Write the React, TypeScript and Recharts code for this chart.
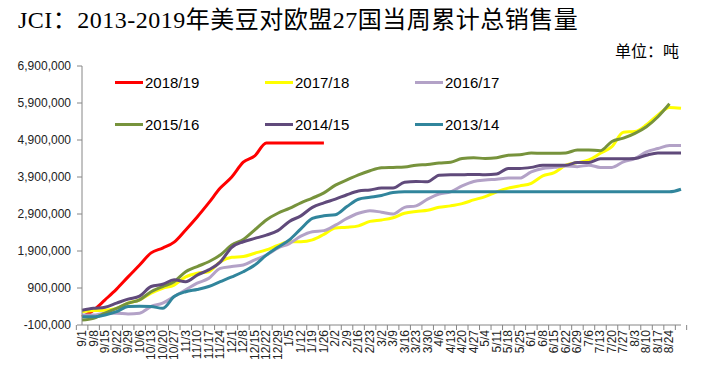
import { LineChart, Line, XAxis, YAxis } from "recharts";

// weekly categories (marketing year Sep -> Aug), last slot has no label
const weeks = [
  "9/1", "9/8", "9/15", "9/22", "9/29", "10/6", "10/13", "10/20", "10/27", "11/3", "11/10", "11/17", "11/24",
  "12/1", "12/8", "12/15", "12/22", "12/29", "1/5", "1/12", "1/19", "1/26", "2/2", "2/9", "2/16", "2/23",
  "3/2", "3/9", "3/16", "3/23", "3/30", "4/6", "4/13", "4/20", "4/27", "5/4", "5/11", "5/18", "5/25",
  "6/1", "6/8", "6/15", "6/22", "6/29", "7/6", "7/13", "7/20", "7/27", "8/3", "8/10", "8/17", "8/24", "",
];

const yTicks = [-100000, 900000, 1900000, 2900000, 3900000, 4900000, 5900000, 6900000];

const s1819 = [
  120000, 300000, 580000, 870000, 1200000, 1520000, 1850000, 1980000, 2140000, 2470000, 2820000,
  3200000, 3600000, 3900000, 4300000, 4470000, 4820000, 4820000, 4820000, 4820000, 4820000, 4820000,
];
const s1718 = [
  260000, 290000, 300000, 350000, 490000, 580000, 760000, 890000, 980000, 1200000, 1300000, 1340000,
  1610000, 1730000, 1750000, 1840000, 1930000, 2050000, 2150000, 2150000, 2200000, 2350000, 2520000,
  2540000, 2580000, 2700000, 2740000, 2800000, 2920000, 2970000, 3000000, 3080000, 3120000, 3180000,
  3280000, 3370000, 3500000, 3600000, 3660000, 3730000, 3930000, 4020000, 4220000, 4290000, 4360000,
  4540000, 4720000, 5110000, 5130000, 5310000, 5580000, 5780000, 5760000,
];
const s1617 = [
  170000, 170000, 220000, 220000, 200000, 220000, 400000, 490000, 670000, 850000, 1030000, 1160000,
  1430000, 1480000, 1520000, 1660000, 1790000, 1980000, 2100000, 2300000, 2420000, 2450000, 2600000,
  2780000, 2920000, 2990000, 2950000, 2900000, 3080000, 3120000, 3300000, 3440000, 3500000, 3660000,
  3780000, 3820000, 3840000, 3870000, 3870000, 4040000, 4130000, 4160000, 4200000, 4180000, 4220000,
  4160000, 4160000, 4310000, 4400000, 4580000, 4670000, 4750000, 4750000,
];
const s1516 = [
  35000, 80000, 220000, 350000, 490000, 580000, 800000, 940000, 1070000, 1340000, 1480000, 1610000,
  1790000, 2060000, 2210000, 2470000, 2740000, 2920000, 3050000, 3200000, 3330000, 3470000, 3680000,
  3820000, 3960000, 4070000, 4150000, 4160000, 4170000, 4220000, 4240000, 4280000, 4300000, 4400000,
  4420000, 4400000, 4420000, 4490000, 4500000, 4550000, 4540000, 4540000, 4550000, 4630000, 4630000,
  4610000, 4860000, 4950000, 5080000, 5260000, 5530000, 5880000,
];
const s1415 = [
  300000, 350000, 380000, 490000, 600000, 680000, 940000, 1000000, 1120000, 1070000, 1250000, 1390000,
  1600000, 2000000, 2150000, 2240000, 2330000, 2450000, 2700000, 2850000, 3080000, 3200000, 3300000,
  3420000, 3520000, 3550000, 3600000, 3600000, 3760000, 3780000, 3770000, 3950000, 3960000, 3960000,
  3970000, 3960000, 3980000, 4130000, 4130000, 4160000, 4220000, 4220000, 4220000, 4290000, 4290000,
  4390000, 4390000, 4390000, 4400000, 4490000, 4550000, 4550000, 4550000,
];
const s1314 = [
  120000, 120000, 170000, 260000, 400000, 410000, 400000, 350000, 670000, 800000, 860000, 940000,
  1070000, 1200000, 1340000, 1520000, 1790000, 2000000, 2200000, 2500000, 2780000, 2850000, 2880000,
  3100000, 3300000, 3350000, 3400000, 3480000, 3500000, 3500000, 3500000, 3500000, 3500000, 3500000,
  3500000, 3500000, 3500000, 3500000, 3500000, 3500000, 3500000, 3500000, 3500000, 3500000, 3500000,
  3500000, 3500000, 3500000, 3500000, 3500000, 3500000, 3500000, 3570000,
];

const series = [
  { key: "s1819", name: "2018/19", color: "#FF0000", values: s1819 },
  { key: "s1718", name: "2017/18", color: "#FFFF00", values: s1718 },
  { key: "s1617", name: "2016/17", color: "#B3A2C7", values: s1617 },
  { key: "s1516", name: "2015/16", color: "#77933C", values: s1516 },
  { key: "s1415", name: "2014/15", color: "#604A7B", values: s1415 },
  { key: "s1314", name: "2013/14", color: "#31859C", values: s1314 },
];

const data = weeks.map((w, i) => {
  const row: Record<string, string | number | null> = { week: w };
  series.forEach((s) => {
    row[s.key] = s.values[i] ?? null;
  });
  return row;
});

const AXIS = "#868686";
const HALF_BAND = 5.65;

// Excel-style: tick marks between categories, labels rotated vertically
const WeekTick = (props: any) => {
  const { x, y, payload, index } = props;
  return (
    <g>
      <line x1={x - HALF_BAND} y1={y} x2={x - HALF_BAND} y2={y + 5} stroke={AXIS} />
      {index === weeks.length - 1 && <line x1={x + HALF_BAND} y1={y} x2={x + HALF_BAND} y2={y + 5} stroke={AXIS} />}
      <text
        x={0}
        y={0}
        transform={`translate(${x + 4},${y + 5}) rotate(-90)`}
        textAnchor="end"
        fontSize={12}
        fill="#222"
        fontFamily="'Liberation Sans', Arial, sans-serif"
      >
        {payload.value}
      </text>
    </g>
  );
};

const legendCols = [115, 265, 415];
const legendRows = [82, 124];

export default function App() {
  return (
    <div style={{ position: "absolute", left: 0, top: 0, width: 712, height: 365, background: "#fff", overflow: "hidden" }}>
      <div
        style={{
          position: "absolute",
          left: 18,
          top: 7,
          fontSize: 24,
          lineHeight: "26px",
          letterSpacing: 0.5,
          fontFamily: "'Liberation Serif', 'Noto Sans CJK SC', serif",
          color: "#000",
          whiteSpace: "nowrap",
        }}
      >
        JCI：2013-2019年美豆对欧盟27国当周累计总销售量
      </div>
      <div
        style={{
          position: "absolute",
          left: 615,
          top: 41,
          fontSize: 16,
          lineHeight: "18px",
          fontFamily: "'Noto Sans CJK SC', sans-serif",
          color: "#000",
        }}
      >
        单位：吨
      </div>

      <LineChart width={712} height={365} data={data} margin={{ top: 66, right: 31, bottom: 0, left: 0 }}>
        <XAxis
          dataKey="week"
          interval={0}
          height={40}
          tickSize={0}
          tickMargin={0}
          tickLine={false}
          axisLine={{ stroke: AXIS }}
          tick={<WeekTick />}
        />
        <YAxis
          width={82}
          type="number"
          domain={[-100000, 6900000]}
          ticks={yTicks}
          interval={0}
          tickSize={5}
          tickMargin={6}
          axisLine={{ stroke: AXIS }}
          tickLine={{ stroke: AXIS }}
          tick={{ fontSize: 12, fill: "#222", fontFamily: "'Liberation Sans', Arial, sans-serif" }}
          tickFormatter={(v: number) => v.toLocaleString("en-US")}
        />
        {series.map((s) => (
          <Line
            key={s.key}
            dataKey={s.key}
            name={s.name}
            type="monotone"
            stroke={s.color}
            strokeWidth={3}
            dot={false}
            activeDot={false}
            isAnimationActive={false}
          />
        ))}
      </LineChart>

      {series.map((s, i) => {
        const left = legendCols[i % 3];
        const top = legendRows[Math.floor(i / 3)];
        return (
          <div key={s.key} style={{ position: "absolute", left, top: top - 10, height: 20, display: "flex", alignItems: "center" }}>
            <span style={{ display: "inline-block", width: 28, height: 3, background: s.color }} />
            <span
              style={{
                marginLeft: 2,
                fontSize: 15,
                fontFamily: "'Liberation Sans', Arial, sans-serif",
                color: "#000",
              }}
            >
              {s.name}
            </span>
          </div>
        );
      })}
    </div>
  );
}
